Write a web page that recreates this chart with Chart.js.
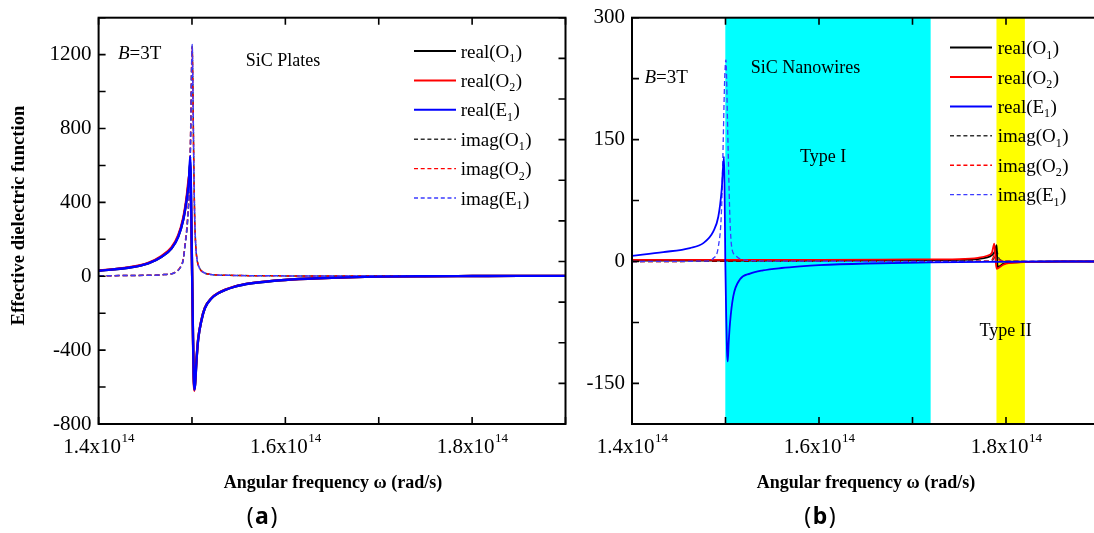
<!DOCTYPE html>
<html><head><meta charset="utf-8">
<script src="https://cdn.jsdelivr.net/npm/chart.js@4.4.0/dist/chart.umd.min.js"></script>
<style>
html,body{margin:0;padding:0;background:#fff;overflow:hidden;width:1094px;height:533px;}
#wrap{position:relative;width:1094px;height:533px;overflow:hidden;background:#fff;}
#cA{position:absolute;left:0;top:0;width:570px;height:533px;}
#cB{position:absolute;left:570px;top:0;width:550px;height:533px;}
</style></head><body>
<div id="wrap"><canvas id="cA" width="570" height="533"></canvas><canvas id="cB" width="550" height="533"></canvas></div>
<script>
// ---------- DATA (x in units of 10^14 rad/s) ----------
const legendMain = ['real(O', 'real(O', 'real(E', 'imag(O', 'imag(O', 'imag(E'];
const legendSub  = ['1', '2', '1', '1', '2', '1'];

// (a) SiC plates
const xA_real  = [1.40,1.4318,1.4532,1.4675,1.4782,1.4853,1.4906,1.4942,1.4967,1.4982,1.4988,1.4995,1.5002,1.5010,1.5018,1.5025,1.5033,1.5049,1.5066,1.5103,1.5138,1.5210,1.5280,1.5459,1.5637,1.5994,1.6350,1.7063,1.75,1.80,1.85,1.90];
const A_realO1 = [30,46,70,106,152,216,306,414,522,620,480,240,0,-290,-530,-610,-585,-450,-343,-235,-172,-119,-92,-56,-38,-20,-11,-2,0,1,2,2];
const A_realO2 = [31,48,73,110,157,222,315,425,535,560,440,220,-10,-310,-560,-620,-580,-445,-340,-233,-171,-118,-91,-55,-37,-20,-11,-2,0,1,2,2];
const A_realE1 = [30,46,70,106,151,214,304,412,520,650,500,250,0,-300,-540,-615,-590,-452,-344,-236,-173,-119,-92,-56,-38,-20,-11,-2,0,1,2,2];
const xA_imag  = [1.40,1.45,1.47,1.4817,1.4881,1.4906,1.4924,1.4953,1.4978,1.4990,1.4996,1.5002,1.5008,1.5015,1.5022,1.5030,1.5040,1.5055,1.5080,1.5120,1.5200,1.5400,1.6000,1.7000,1.9000];
const A_imagO1 = [3,5,9,20,52,88,158,300,568,890,1110,1245,1090,790,515,298,168,89,45,22,10,5,2,1,0.5];
const A_imagO2 = [3,5,9,21,55,93,168,318,590,920,1140,1240,1080,780,505,292,165,88,44,22,10,5,2,1,0.5];
const A_imagE1 = [3,5,9,20,52,88,160,304,574,900,1120,1255,1100,800,520,300,170,90,45,22,10,5,2,1,0.5];

// (b) SiC nanowires
const xB_realO1 = [1.40,1.50,1.60,1.70,1.75,1.77,1.78,1.785,1.788,1.790,1.7905,1.791,1.793,1.797,1.80,1.81,1.83,1.86,1.90];
const B_realO1  = [1,1,1,1.5,2,3,5,8,12,20,5,-7,-6,-3,-2,-1,-0.5,0,0];
const xB_realO2 = [1.40,1.50,1.60,1.70,1.75,1.77,1.78,1.785,1.7875,1.789,1.790,1.792,1.797,1.80,1.81,1.83,1.86,1.90];
const B_realO2  = [2,2,2,2.5,3,4.5,7,11,22,0,-9,-8,-4,-2.5,-1.5,-0.5,0,0];
const xB_realE1 = [1.40,1.4335,1.4620,1.4763,1.4870,1.4923,1.4959,1.4984,1.4990,1.4998,1.5008,1.5016,1.5024,1.5034,1.5048,1.5083,1.5155,1.5262,1.5400,1.5600,1.5800,1.6000,1.6500,1.7200,1.7800,1.8500,1.9000];
const B_realE1  = [7,11.5,16.5,22.6,37,55,88,129,90,0,-70,-110,-123,-100,-76,-43,-22,-15,-11,-8,-6,-4.5,-2.5,-1.2,-0.5,0,0];
const xB_imagO1 = [1.40,1.78,1.786,1.789,1.7905,1.792,1.795,1.80,1.90];
const B_imagO1  = [0,0.3,2,8,12,5,1.5,0.5,0];
const xB_imagO2 = [1.40,1.78,1.785,1.7875,1.789,1.791,1.795,1.80,1.90];
const B_imagO2  = [0,0.3,2,9,11,4,1.2,0.4,0];
const xB_imagE1 = [1.40,1.4800,1.4870,1.4923,1.4959,1.4976,1.4990,1.5000,1.5005,1.5012,1.5020,1.5030,1.5048,1.5066,1.5102,1.5190,1.5500,1.9000];
const B_imagE1  = [0,0.5,4,18,68,150,220,245,248,225,180,129,51,18,8,2,0.5,0];

// shaded bands in (b)
const typeIBand  = [1.4998, 1.7194];
const typeIIBand = [1.7898, 1.8202];

// ticks
const xTickMarks  = [1.4,1.5,1.6,1.7,1.8,1.9];
const xTickLabels = [1.4,1.6,1.8];
const yTickMarksA = [-800,-600,-400,-200,0,200,400,600,800,1000,1200,1400];
const yTickLabelsA = [-800,-400,0,400,800,1200];
const yTickMarksA_right = [-200,-150,-100,-50,0,50,100,150,200,250,300];
const yTickMarksB = [-150,-75,0,75,150,225,300];
const yTickLabelsB = [-150,0,150,300];

// ---------- STYLE ----------
const SERIF = "'Liberation Serif','Times New Roman',serif";
const SANS = "'Noto Sans','Open Sans',sans-serif";
const COLORS = ['#000000','#ff0000','#0000ff','#333333','#ff0000','#3b3bff'];
const DASH = [5,3];

function pts(xs, ys){ return xs.map((x,i)=>({x:x, y:ys[i]})); }
function ds(label, xs, ys, color, width, dash, order){
  return {label, data: pts(xs,ys), borderColor: color, backgroundColor: color, borderWidth: width,
    borderDash: dash || [], pointRadius: 0, fill: false, cubicInterpolationMode: 'monotone', order};
}

function drawLegend(ctx, lx0, lx1, tx, y0, dy, widths){
  for(let i=0;i<6;i++){
    const y = y0 + i*dy;
    ctx.save();
    ctx.strokeStyle = COLORS[i];
    ctx.lineWidth = widths[i];
    ctx.setLineDash(i<3 ? [] : [4,2.7]);
    ctx.beginPath(); ctx.moveTo(lx0,y); ctx.lineTo(lx1,y); ctx.stroke();
    ctx.restore();
    ctx.fillStyle = '#000';
    ctx.textAlign = 'left'; ctx.textBaseline = 'alphabetic';
    ctx.font = '19px ' + SERIF;
    ctx.fillText(legendMain[i], tx, y+6.5);
    const w1 = ctx.measureText(legendMain[i]).width;
    ctx.font = '12px ' + SERIF;
    ctx.fillText(legendSub[i], tx+w1, y+11);
    const w2 = ctx.measureText(legendSub[i]).width;
    ctx.font = '19px ' + SERIF;
    ctx.fillText(')', tx+w1+w2+0.5, y+6.5);
  }
}

function drawB3T(ctx, x, y){
  ctx.fillStyle='#000'; ctx.textAlign='left'; ctx.textBaseline='alphabetic';
  ctx.font = 'italic 19px ' + SERIF;
  ctx.fillText('B', x, y);
  const w = ctx.measureText('B').width;
  ctx.font = '19px ' + SERIF;
  ctx.fillText('=3T', x+w, y);
}

function drawPanelLetter(ctx, cx, y, letter){
  ctx.fillStyle='#000'; ctx.textBaseline='alphabetic'; ctx.textAlign='left';
  ctx.font = "23px " + SANS;
  const wp = ctx.measureText('(').width;
  ctx.font = "bold 23px " + SANS;
  const wl = ctx.measureText(letter).width;
  const gap = 1.5;
  const total = wp*2 + wl + gap*2;
  let x = cx - total/2;
  ctx.font = "23px " + SANS;
  ctx.fillText('(', x, y); x += wp + gap;
  ctx.font = "bold 23px " + SANS;
  ctx.fillText(letter, x, y); x += wl + gap;
  ctx.font = "23px " + SANS;
  ctx.fillText(')', x, y);
}

function makeDeco(opt){
  return {
    id: 'deco_' + opt.id,
    beforeDatasetsDraw(chart){
      const ctx = chart.ctx, a = chart.chartArea, x = chart.scales.x;
      (opt.bands||[]).forEach(b=>{
        const x0 = x.getPixelForValue(b.range[0]), x1 = x.getPixelForValue(b.range[1]);
        ctx.fillStyle = b.color;
        ctx.fillRect(x0, a.top, x1-x0, a.bottom-a.top);
      });
    },
    afterDraw(chart){
      const ctx = chart.ctx, a = chart.chartArea, x = chart.scales.x, y = chart.scales.y;
      ctx.save();
      ctx.strokeStyle = '#000'; ctx.lineWidth = 2; ctx.setLineDash([]);
      ctx.strokeRect(a.left, a.top, a.right-a.left, a.bottom-a.top);
      ctx.lineWidth = 1.6;
      const L = 7;
      ctx.beginPath();
      xTickMarks.forEach(v=>{
        const px = x.getPixelForValue(v);
        ctx.moveTo(px, a.bottom); ctx.lineTo(px, a.bottom-L);
        ctx.moveTo(px, a.top); ctx.lineTo(px, a.top+L);
      });
      opt.yMarks.forEach(v=>{
        const py = y.getPixelForValue(v);
        ctx.moveTo(a.left, py); ctx.lineTo(a.left+L, py);
      });
      if(opt.rightMarks){
        const y2 = chart.scales.y2;
        opt.rightMarks.forEach(v=>{
          const py = y2.getPixelForValue(v);
          ctx.moveTo(a.right, py); ctx.lineTo(a.right-L, py);
        });
      }
      ctx.stroke();
      ctx.fillStyle = '#000';
      ctx.font = '21px ' + SERIF;
      ctx.textAlign = 'right'; ctx.textBaseline = 'middle';
      opt.yLabels.forEach(v=>{
        ctx.fillText(String(v), a.left-7, y.getPixelForValue(v));
      });
      ctx.textBaseline = 'alphabetic'; ctx.textAlign = 'left';
      xTickLabels.forEach(v=>{
        const px = x.getPixelForValue(v);
        const main = v.toFixed(1) + 'x10', sup = '14';
        ctx.font = '21px ' + SERIF; const w1 = ctx.measureText(main).width;
        ctx.font = '13px ' + SERIF; const w2 = ctx.measureText(sup).width;
        const s = px - (w1+w2)/2;
        ctx.font = '21px ' + SERIF; ctx.fillText(main, s, 453);
        ctx.font = '13px ' + SERIF; ctx.fillText(sup, s+w1+0.5, 442);
      });
      ctx.font = 'bold 18px ' + SERIF;
      ctx.textAlign = 'center';
      ctx.fillText('Angular frequency \u03c9 (rad/s)', opt.xTitleX, 488);
      if(opt.yTitle){
        ctx.save();
        ctx.translate(opt.yTitle.x, opt.yTitle.y);
        ctx.rotate(-Math.PI/2);
        ctx.font = 'bold 18.7px ' + SERIF;
        ctx.textBaseline = 'middle';
        ctx.fillText(opt.yTitle.text, 0, 0);
        ctx.restore();
      }
      drawPanelLetter(ctx, opt.letterX, 524, opt.letter);
      drawB3T(ctx, opt.b3t[0], opt.b3t[1]);
      ctx.font = '18px ' + SERIF; ctx.textAlign = 'left'; ctx.textBaseline='alphabetic'; ctx.fillStyle='#000';
      opt.notes.forEach(n=> ctx.fillText(n.text, n.x, n.y));
      drawLegend(ctx, opt.legend.lx0, opt.legend.lx1, opt.legend.tx, opt.legend.y0, 29.4, opt.legend.widths);
      ctx.restore();
    }
  };
}

Chart.defaults.animation = false;
Chart.defaults.font.family = SERIF;

new Chart(document.getElementById('cA'), {
  type: 'line',
  data: { datasets: [
    ds('real(O1)', xA_real, A_realO1, COLORS[0], 2.4, null, 5),
    ds('real(O2)', xA_real, A_realO2, COLORS[1], 2.4, null, 4),
    ds('real(E1)', xA_real, A_realE1, COLORS[2], 2.4, null, 0),
    ds('imag(O1)', xA_imag, A_imagO1, COLORS[3], 1.5, DASH, 3),
    ds('imag(O2)', xA_imag, A_imagO2, COLORS[4], 1.5, DASH, 2),
    ds('imag(E1)', xA_imag, A_imagE1, COLORS[5], 1.5, DASH, 1)
  ]},
  options: {
    responsive: false, animation: false, maintainAspectRatio: false,
    layout: { padding: { left: 98.6, right: 4.5, top: 17.7, bottom: 109 } },
    plugins: { legend: { display: false }, tooltip: { enabled: false } },
    scales: {
      x: { type: 'linear', min: 1.4, max: 1.9, display: false },
      y: { type: 'linear', min: -800, max: 1400, display: false },
      y2: { type: 'linear', min: -200, max: 300, display: false, position: 'right' }
    }
  },
  plugins: [makeDeco({
    id: 'a', yMarks: yTickMarksA, yLabels: yTickLabelsA, rightMarks: yTickMarksA_right,
    xTitleX: 333, letterX: 262, letter: 'a',
    yTitle: { text: 'Effective dielectric function', x: 19, y: 215.5 },
    b3t: [118, 59],
    notes: [{ text: 'SiC Plates', x: 245.7, y: 66 }],
    legend: { lx0: 414, lx1: 456, tx: 460.7, y0: 51, widths: [2,2,2,1.4,1.4,1.4] }
  })]
});

new Chart(document.getElementById('cB'), {
  type: 'line',
  data: { datasets: [
    ds('real(O1)', xB_realO1, B_realO1, COLORS[0], 1.8, null, 3),
    ds('real(O2)', xB_realO2, B_realO2, COLORS[1], 1.8, null, 2),
    ds('real(E1)', xB_realE1, B_realE1, COLORS[2], 1.8, null, 0),
    ds('imag(O1)', xB_imagO1, B_imagO1, COLORS[3], 1.3, DASH, 5),
    ds('imag(O2)', xB_imagO2, B_imagO2, COLORS[4], 1.3, DASH, 4),
    ds('imag(E1)', xB_imagE1, B_imagE1, COLORS[5], 1.3, DASH, 1)
  ]},
  options: {
    responsive: false, animation: false, maintainAspectRatio: false,
    layout: { padding: { left: 62, right: 20.5, top: 17.7, bottom: 109 } },
    plugins: { legend: { display: false }, tooltip: { enabled: false } },
    scales: {
      x: { type: 'linear', min: 1.4, max: 1.9, display: false },
      y: { type: 'linear', min: -200, max: 300, display: false }
    }
  },
  plugins: [makeDeco({
    id: 'b', yMarks: yTickMarksB, yLabels: yTickLabelsB,
    bands: [{ range: typeIBand, color: '#00ffff' }, { range: typeIIBand, color: '#ffff00' }],
    xTitleX: 296, letterX: 250, letter: 'b',
    b3t: [74.5, 83],
    notes: [{ text: 'SiC Nanowires', x: 180.7, y: 73 }, { text: 'Type I', x: 230, y: 162 }, { text: 'Type II', x: 409.6, y: 336 }],
    legend: { lx0: 380, lx1: 422, tx: 427.7, y0: 47.6, widths: [2,2,2,1.4,1.4,1.4] }
  })]
});
</script>
</body></html>
